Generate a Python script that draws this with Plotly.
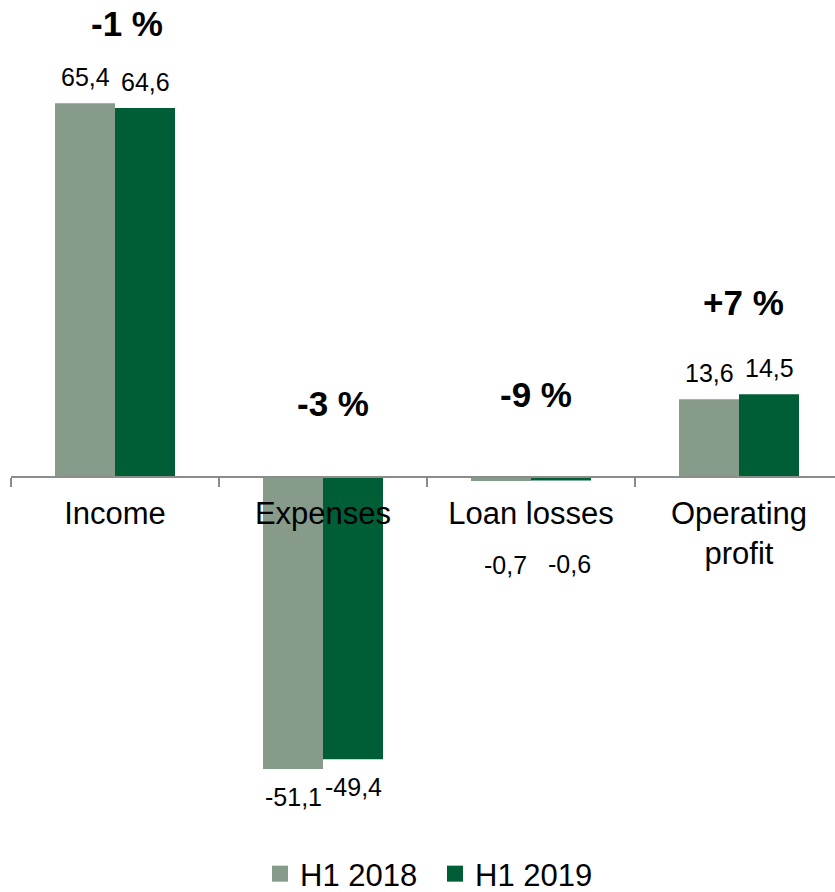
import plotly.graph_objects as go

# Half-year comparison, values in the same unit as the labels
categories = ["Income", "Expenses", "Loan losses", "Operating<br>profit"]
series_names = ["H1 2018", "H1 2019"]
h1_2018 = [65.4, -51.1, -0.7, 13.6]
h1_2019 = [64.6, -49.4, -0.6, 14.5]
change_labels = ["-1 %", "-3 %", "-9 %", "+7 %"]
change_label_y = [79.3, 12.9, 14.5, 30.6]

colors = ["#879b8b", "#005e37"]
FONT = "Arial, 'Liberation Sans', sans-serif"

W, H = 835, 892
Y_MIN, Y_MAX = -53.03, 83.48


def fmt(v):
    return f"{v:.1f}".replace(".", ",")


fig = go.Figure()
for name, vals, col in zip(series_names, [h1_2018, h1_2019], colors):
    fig.add_trace(go.Bar(
        x=categories, y=vals, name=name, marker=dict(color=col, line=dict(width=0)),
        showlegend=False,
    ))
    # square swatches for the legend
    fig.add_trace(go.Scatter(
        x=[None], y=[None], mode="markers", name=name,
        marker=dict(symbol="square", size=18, color=col),
    ))

# value labels above / below each bar
for si, vals in enumerate([h1_2018, h1_2019]):
    side = -1 if si == 0 else 1
    for ci, v in enumerate(vals):
        if categories[ci] == "Loan losses":
            yshift = -84
            xshift = side * 30 + (4 if si == 0 else 8)
        else:
            yshift = 26 if v >= 0 else -28
            xshift = side * 30
        fig.add_annotation(
            x=categories[ci], y=v, text=fmt(v), showarrow=False,
            xshift=xshift, yshift=yshift, yanchor="middle", xanchor="center",
            font=dict(family=FONT, size=25, color="#000000"),
        )

# change percentages
pct_xshift = [12, 10, 5, 4]
for ci, (txt, yy) in enumerate(zip(change_labels, change_label_y)):
    fig.add_annotation(
        x=categories[ci], y=yy, text=f"<b>{txt}</b>", showarrow=False,
        xshift=pct_xshift[ci], yanchor="middle", xanchor="center",
        font=dict(family=FONT, size=35, color="#000000"),
    )

fig.update_layout(
    width=W, height=H,
    margin=dict(l=11, r=0, t=0, b=112, autoexpand=False),
    paper_bgcolor="white", plot_bgcolor="white",
    barmode="group", bargap=0.4231, bargroupgap=0,
    font=dict(family=FONT, size=31, color="#000000"),
    showlegend=True,
    legend=dict(
        orientation="h", xref="container", yref="container",
        x=435 / W, xanchor="center", y=1 - 874 / H, yanchor="middle",
        font=dict(family=FONT, size=31, color="#000000"),
        itemclick=False, tracegroupgap=0, entrywidth=130,
    ),
    xaxis=dict(
        type="category", range=[-0.5, -0.5 + 824 / 208],
        anchor="free", position=-Y_MIN / (Y_MAX - Y_MIN),
        showline=True, linecolor="#8c8c8c", linewidth=2,
        ticks="outside", tickson="boundaries", ticklen=9, tickwidth=2,
        tickcolor="#8c8c8c", showgrid=False, zeroline=False,
        ticklabelstandoff=9, automargin=False,
        tickfont=dict(family=FONT, size=31, color="#000000"),
    ),
    yaxis=dict(
        range=[Y_MIN, Y_MAX], visible=False, showgrid=False, zeroline=False,
    ),
)

fig.write_html("out.html")
